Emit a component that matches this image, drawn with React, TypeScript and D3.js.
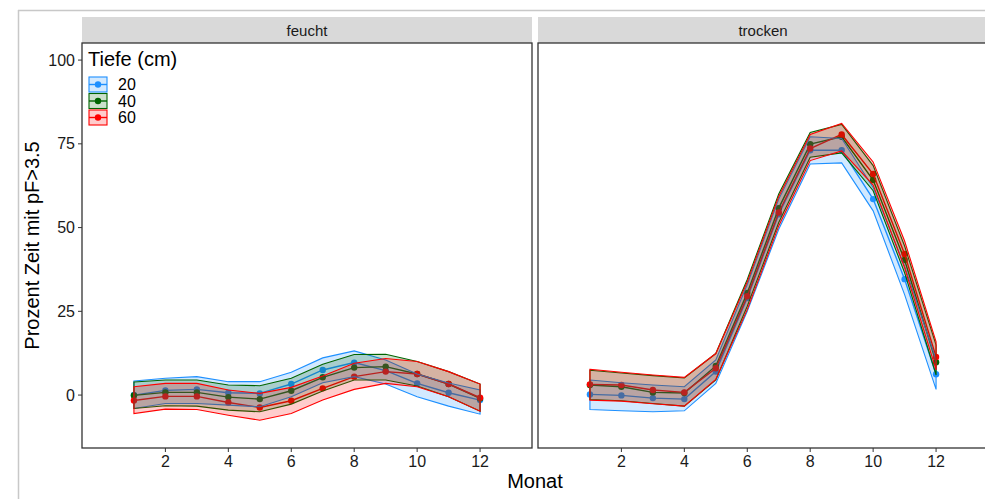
import React from "react";
import * as d3 from "d3";

const months = [1, 2, 3, 4, 5, 6, 7, 8, 9, 10, 11, 12];
const depths = ["20", "40", "60"];
const depthColors = ["#1E90FF", "#006400", "#FF0000"];
const panels = ["feucht", "trocken"];
const xTicks = [2, 4, 6, 8, 10, 12];
const yTicks = [0, 25, 50, 75, 100];

// feucht
const f20Mean = [0.0, 1.4, 1.7, 0.7, 0.5, 3.3, 7.5, 9.7, 7.3, 3.5, 0.7, -1.5];
const f20Lo = [-4.0, -2.5, -2.5, -3.0, -3.5, -0.5, 3.7, 5.5, 3.3, -0.5, -3.3, -5.7];
const f20Hi = [4.2, 5.0, 5.5, 4.0, 4.0, 6.8, 11.1, 13.2, 10.5, 6.3, 3.6, 1.5];
const f40Mean = [-0.1, 0.8, 0.8, -0.6, -1.2, 1.3, 5.3, 8.2, 8.5, 6.3, 3.3, -1.0];
const f40Lo = [-4.0, -3.2, -3.3, -4.5, -5.0, -2.7, 1.2, 4.5, 4.5, 2.7, -0.5, -4.8];
const f40Hi = [3.9, 4.5, 4.5, 3.0, 2.8, 5.0, 9.2, 12.1, 12.2, 10.0, 7.0, 3.3];
const f60Mean = [-1.6, -0.4, -0.4, -2.2, -3.7, -1.7, 2.0, 5.5, 7.0, 6.3, 3.3, -0.8];
const f60Lo = [-5.5, -4.2, -4.3, -6.0, -7.5, -5.5, -1.5, 1.7, 3.5, 2.5, -0.5, -4.8];
const f60Hi = [2.5, 3.5, 3.5, 1.5, 0.5, 2.3, 5.7, 9.5, 10.9, 10.0, 7.0, 3.3];

// trocken
const t20Mean = [0.2, -0.1, -0.9, -1.2, 7.0, 29.0, 54.0, 73.1, 73.1, 58.5, 34.6, 6.2];
const t20Lo = [-4.3, -4.7, -5.0, -4.7, 3.5, 25.0, 49.5, 69.0, 69.3, 55.0, 30.0, 1.7];
const t20Hi = [4.5, 3.7, 3.0, 2.5, 10.5, 33.0, 58.5, 77.1, 76.6, 62.0, 38.5, 10.5];
const t40Mean = [3.0, 2.5, 0.8, 0.6, 8.7, 30.5, 55.8, 74.9, 77.1, 64.2, 40.3, 9.8];
const t40Lo = [-1.3, -1.7, -2.5, -3.3, 4.5, 26.5, 51.5, 71.0, 72.3, 61.0, 36.5, 6.0];
const t40Hi = [7.4, 6.6, 5.8, 5.1, 12.4, 34.5, 60.0, 78.4, 80.8, 68.5, 44.5, 14.9];
const t60Mean = [3.2, 3.0, 1.5, 0.8, 8.0, 29.5, 54.5, 73.6, 77.8, 66.0, 42.1, 11.4];
const t60Lo = [-1.5, -1.8, -2.6, -3.3, 4.7, 25.5, 50.5, 70.0, 72.9, 62.7, 38.0, 7.5];
const t60Hi = [7.7, 6.8, 6.0, 5.3, 12.4, 33.8, 59.3, 77.8, 81.1, 69.6, 46.0, 15.9];

const panelData = [
  [
    { mean: f20Mean, lo: f20Lo, hi: f20Hi },
    { mean: f40Mean, lo: f40Lo, hi: f40Hi },
    { mean: f60Mean, lo: f60Lo, hi: f60Hi },
  ],
  [
    { mean: t20Mean, lo: t20Lo, hi: t20Hi },
    { mean: t40Mean, lo: t40Lo, hi: t40Hi },
    { mean: t60Mean, lo: t60Lo, hi: t60Hi },
  ],
];

const W = 985;
const H = 499;
const FONT = "'Liberation Sans', Arial, sans-serif";
const panelLefts = [82, 538];
const panelW = 450;
const panelTop = 43;
const panelBottom = 448;
const stripTop = 17;

export default function App() {
  const y = d3.scaleLinear().domain([-15.8, 105.1]).range([panelBottom, panelTop]);

  return (
    <svg
      width={W}
      height={H}
      style={{ position: "absolute", left: 0, top: 0, background: "#fff" }}
      fontFamily={FONT}
    >
      <rect x={0} y={0} width={W} height={H} fill="#fff" />
      {/* outer frame */}
      <line x1={18.5} y1={10} x2={18.5} y2={H} stroke="#c8c8c8" strokeWidth={1.5} />
      <line x1={18} y1={10.5} x2={W} y2={10.5} stroke="#c8c8c8" strokeWidth={1.5} />

      {panels.map((name, pi) => {
        const left = panelLefts[pi];
        const x = d3.scaleLinear().domain([-0.65, 13.65]).range([left, left + panelW]);
        const clipId = `clip-${pi}`;
        const series = panelData[pi];
        return (
          <g key={name}>
            <defs>
              <clipPath id={clipId}>
                <rect x={left} y={panelTop} width={panelW} height={panelBottom - panelTop} />
              </clipPath>
            </defs>
            {/* strip */}
            <rect x={left} y={stripTop} width={panelW} height={panelTop - stripTop} fill="#D9D9D9" />
            <text
              x={left + panelW / 2}
              y={(stripTop + panelTop) / 2}
              textAnchor="middle"
              dominantBaseline="central"
              fontSize={15}
              fill="#1A1A1A"
            >
              {name}
            </text>
            <rect x={left} y={panelTop} width={panelW} height={panelBottom - panelTop} fill="#fff" />
            <g clipPath={`url(#${clipId})`}>
              {series.map((s, di) => {
                const line = d3
                  .line<number>()
                  .x((_, i) => x(months[i]))
                  .y((v) => y(v));
                return (
                  <g key={"l" + di}>
                    <path d={line(s.mean) || ""} fill="none" stroke={depthColors[di]} strokeWidth={1.4} />
                    {s.mean.map((v, i) => (
                      <circle key={i} cx={x(months[i])} cy={y(v)} r={3.2} fill={depthColors[di]} />
                    ))}
                  </g>
                );
              })}
              {series.map((s, di) => {
                const area = d3
                  .area<number>()
                  .x((_, i) => x(months[i]))
                  .y0((_, i) => y(s.lo[i]))
                  .y1((_, i) => y(s.hi[i]));
                return (
                  <path
                    key={"r" + di}
                    d={area(months) || ""}
                    fill={depthColors[di]}
                    fillOpacity={0.2}
                    stroke={depthColors[di]}
                    strokeWidth={1.1}
                  />
                );
              })}
            </g>
            <rect
              x={left}
              y={panelTop}
              width={panelW}
              height={panelBottom - panelTop}
              fill="none"
              stroke="#333"
              strokeWidth={1.3}
            />
            {/* x axis */}
            {xTicks.map((t) => (
              <g key={t}>
                <line x1={x(t)} x2={x(t)} y1={panelBottom} y2={panelBottom + 4} stroke="#333" strokeWidth={1} />
                <text x={x(t)} y={panelBottom + 19} textAnchor="middle" fontSize={16} fill="#1A1A1A">
                  {t}
                </text>
              </g>
            ))}
          </g>
        );
      })}

      {/* y axis */}
      {yTicks.map((t) => (
        <g key={t}>
          <line x1={78} x2={82} y1={y(t)} y2={y(t)} stroke="#333" strokeWidth={1} />
          <text x={75} y={y(t)} textAnchor="end" dominantBaseline="central" fontSize={16} fill="#1A1A1A">
            {t}
          </text>
        </g>
      ))}
      <text
        transform={`translate(39, ${(panelTop + panelBottom) / 2}) rotate(-90)`}
        textAnchor="middle"
        fontSize={20}
        fill="#000"
      >
        Prozent Zeit mit pF&gt;3.5
      </text>
      <text x={535} y={488} textAnchor="middle" fontSize={20} fill="#000">
        Monat
      </text>

      {/* legend */}
      <text x={88} y={66} fontSize={20} fill="#000">
        Tiefe (cm)
      </text>
      {depths.map((d, i) => {
        const ky = 77 + i * 16.5;
        return (
          <g key={d}>
            <rect
              x={89}
              y={ky}
              width={18}
              height={15}
              fill={depthColors[i]}
              fillOpacity={0.2}
              stroke={depthColors[i]}
              strokeWidth={1.1}
            />
            <line x1={89} x2={107} y1={ky + 7.5} y2={ky + 7.5} stroke={depthColors[i]} strokeWidth={1.4} />
            <circle cx={98} cy={ky + 7.5} r={3.2} fill={depthColors[i]} />
            <text x={118} y={ky + 7.5} dominantBaseline="central" fontSize={16} fill="#000">
              {d}
            </text>
          </g>
        );
      })}
    </svg>
  );
}
